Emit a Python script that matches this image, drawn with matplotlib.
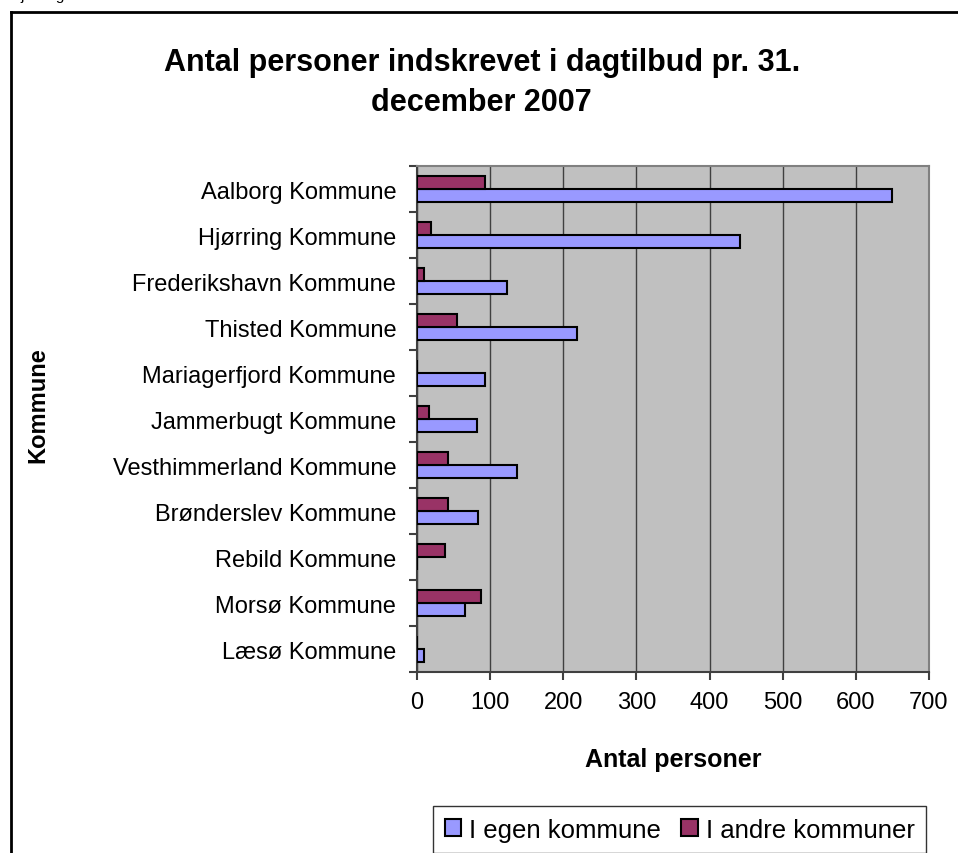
import matplotlib.pyplot as plt
import numpy as np

# data
kommuner = ['Aalborg Kommune', 'Hjørring Kommune', 'Frederikshavn Kommune',
            'Thisted Kommune', 'Mariagerfjord Kommune', 'Jammerbugt Kommune',
            'Vesthimmerland Kommune', 'Brønderslev Kommune', 'Rebild Kommune',
            'Morsø Kommune', 'Læsø Kommune']
egen = [649, 442, 123, 219, 93, 82, 137, 84, 0, 65, 10]
andre = [93, 19, 10, 55, 0, 16, 43, 43, 38, 87, 0]
xticks = [0, 100, 200, 300, 400, 500, 600, 700]

plt.rcParams['font.family'] = ['Liberation Sans', 'DejaVu Sans']

fig = plt.figure(figsize=(9.58, 8.54), dpi=100)
ax = fig.add_axes([0.4353, 0.2119, 0.5344, 0.5925])

y = np.arange(len(kommuner))
h = 0.283
ax.barh(y + h / 2, egen, height=h, color='#9999FF', edgecolor='black',
        linewidth=1.5, label='I egen kommune', zorder=3)
ax.barh(y - h / 2, andre, height=h, color='#993366', edgecolor='black',
        linewidth=1.5, label='I andre kommuner', zorder=3)

ax.set_facecolor('#C0C0C0')
ax.set_xlim(0, 700)
ax.set_ylim(len(kommuner) - 0.5, -0.5)
ax.set_xticks(xticks)
ax.set_xticklabels([str(v) for v in xticks], fontsize=17)
ax.set_yticks(y)
ax.set_yticklabels(kommuner, fontsize=17)
ax.set_yticks(np.arange(len(kommuner) + 1) - 0.5, minor=True)
ax.tick_params(axis='y', which='major', length=0, pad=15)
ax.tick_params(axis='y', which='minor', length=6, width=1.5, color='#404040')
ax.tick_params(axis='x', length=6, width=1.5, color='#404040', pad=8)
ax.grid(axis='x', color='#404040', linewidth=1, zorder=0)

for s in ['left', 'bottom']:
    ax.spines[s].set_color('#404040')
    ax.spines[s].set_linewidth(1.5)
for s in ['top', 'right']:
    ax.spines[s].set_color('#808080')
    ax.spines[s].set_linewidth(1.5)

ax.set_xlabel('Antal personer', fontsize=18, fontweight='bold', labelpad=24)
fig.text(0.040, 0.526, 'Kommune', rotation=90, fontsize=17, fontweight='bold',
         ha='center', va='center')

fig.text(0.503, 0.903, 'Antal personer indskrevet i dagtilbud pr. 31.\ndecember 2007',
         fontsize=22, fontweight='bold', ha='center', va='center', linespacing=1.45)

leg = fig.legend(loc='upper left', bbox_to_anchor=(0.452, 0.055), ncol=2,
                 fontsize=18.5, frameon=True, fancybox=False, handlelength=0.65,
                 handleheight=0.65, handletextpad=0.3, columnspacing=0.8,
                 borderpad=0.45, borderaxespad=0)
leg.get_frame().set_edgecolor('black')
leg.get_frame().set_linewidth(1)

# outer chart border (right and bottom fall outside the picture)
fig.add_artist(plt.Line2D([0.0115, 0.0115], [0, 0.985], color='black', lw=2,
                          transform=fig.transFigure))
fig.add_artist(plt.Line2D([0.0115, 1.0], [0.985, 0.985], color='black', lw=2,
                          transform=fig.transFigure))
# caption above the chart, only its lowest part is inside the picture
fig.text(0.011, 1.0, 'Hjørring', fontsize=11, va='baseline')

fig.savefig('out.png', dpi=100)
